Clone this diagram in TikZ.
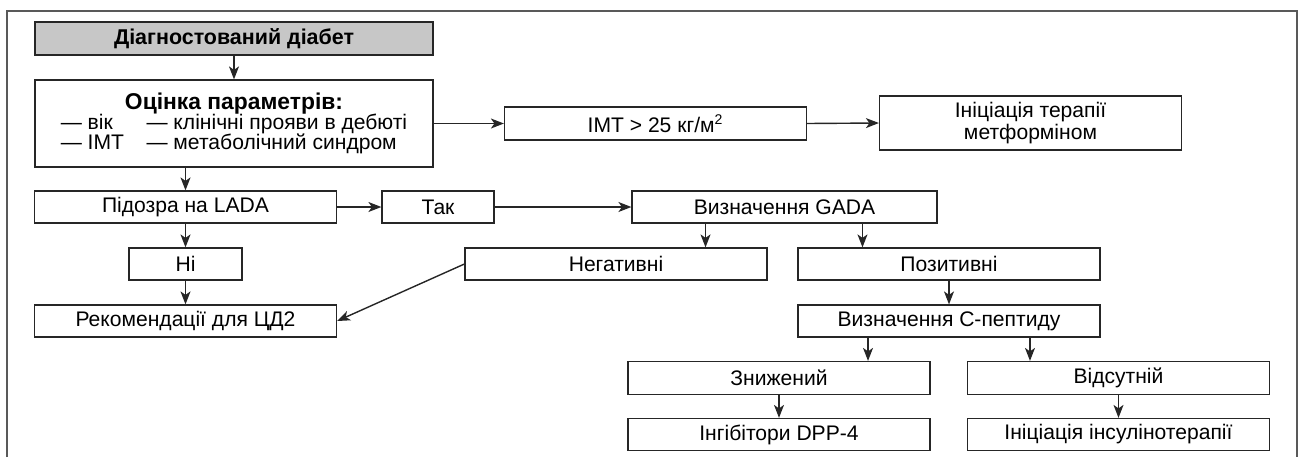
\documentclass[tikz,border=0pt]{standalone}
\usepackage{fontspec}
\setmainfont{Liberation Sans}
\usetikzlibrary{arrows.meta, positioning}
\tikzstyle{arrow} = [line width=0.8pt, draw=black!85, ->, >={Stealth[length=2.6mm,width=2mm,inset=0.7mm]}]
\tikzstyle{block} = [rectangle, draw=black!85, line width=0.7pt, minimum width=6.04cm, minimum height=0.64cm, inner sep=0pt, text centered, font=\fontsize{12}{12.5}\selectfont]
\tikzstyle{frame} = [line width=1.1pt, draw=black!65]

\begin{document}
\begin{tikzpicture}[x=0.02cm, y=-0.02cm]
\useasboundingbox (0,0) rectangle (1299,457);
% Outer frame (open at the bottom)
\draw [frame] (7,457) -- (7,11) -- (1297,11) -- (1297,457);

% Placement of flowchart nodes
\node (diag) [block, fill=black!22, minimum width=7.96cm, minimum height=0.66cm, font=\fontsize{12.2}{13}\selectfont\bfseries] at (234,38.5) {Діагностований діабет};

\node (params) [block, minimum width=7.96cm, minimum height=1.74cm, align=center] at (234,123.5) {{\fontsize{13}{14}\selectfont\bfseries Оцінка параметрів:}\\[-1.2pt]
{\fontsize{12}{9.2}\selectfont\begin{tabular}[t]{@{}l@{\hspace{0.45cm}}l@{}}
— вік & — клінічні прояви в дебюті\\
— ІМТ & — метаболічний синдром
\end{tabular}}};

\node (imt) [block, minimum height=0.66cm] at (655.5,123.5) {ІМТ > 25 кг/м\textsuperscript{2}};
\node (metf) [block, minimum height=1.08cm, align=center] at (1030.5,123) {Ініціація терапії\\ метформіном};

\node (lada) [block] at (185.5,207) {Підозра на LADA};
\node (yes) [block, minimum width=2.24cm] at (438,207) {Так};
\node (gada) [block, minimum width=6.1cm] at (784.5,207) {Визначення GADA};

\node (no) [block, minimum width=2.26cm] at (185.5,264) {Ні};
\node (neg) [block] at (616,264) {Негативні};
\node (pos) [block] at (949,264) {Позитивні};

\node (rec) [block] at (185.5,321) {Рекомендації для ЦД2};
\node (cpep) [block] at (949,321) {Визначення С-пептиду};

\node (low) [block, minimum height=0.66cm] at (779,378) {Знижений};
\node (absent) [block, minimum height=0.66cm] at (1118.5,378) {Відсутній};

\node (dpp) [block] at (779,434.5) {Інгібітори DPP-4};
\node (insul) [block] at (1118.5,434.5) {Ініціація інсулінотерапії};

% Drawing of lines of main chart
\draw [arrow] (diag) -- (params);
\draw [arrow] (params.east) -- (imt.west);
\draw [arrow] (imt.east) -- (metf.west);
\draw [arrow] (lada.north |- params.south) -- (lada.north);
\draw [arrow] (lada.east) -- (yes.west);
\draw [arrow] (yes.east) -- (gada.west);
\draw [arrow] (lada) -- (no);
\draw [arrow] (no) -- (rec);

% GADA branches
\draw [arrow] ([xshift=-1.58cm]gada.south) -- ([xshift=-1.58cm]gada.south |- neg.north);
\draw [arrow] ([xshift=1.56cm]gada.south) -- ([xshift=1.56cm]gada.south |- pos.north);
\draw [arrow] (neg.west) -- (rec.east);
\draw [arrow] (pos) -- (cpep);

% C-peptide branches
\draw [arrow] ([xshift=-1.62cm]cpep.south) -- ([xshift=-1.62cm]cpep.south |- low.north);
\draw [arrow] ([xshift=1.62cm]cpep.south) -- ([xshift=1.62cm]cpep.south |- absent.north);
\draw [arrow] (low) -- (dpp);
\draw [arrow] (absent) -- (insul);

\end{tikzpicture}
\end{document}
